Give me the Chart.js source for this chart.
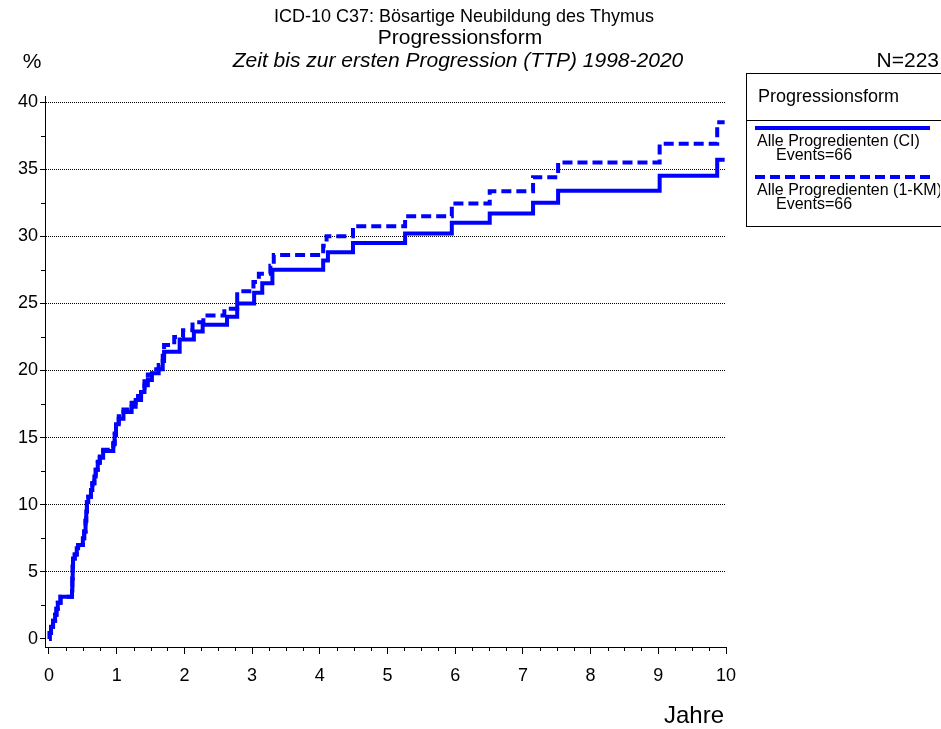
<!DOCTYPE html>
<html lang="de">
<head>
<meta charset="utf-8">
<title>ICD-10 C37 Progressionsform</title>
<script src="https://cdn.jsdelivr.net/npm/chart.js@4.4.1/dist/chart.umd.min.js"></script>
<style>
  html, body { margin: 0; padding: 0; background: #fff; }
  #chartContainer { display: block; }
</style>
</head>
<body>
<canvas id="chartContainer" width="941" height="729"></canvas>
<script>
// Zeit bis zur ersten Progression, kumulative Inzidenz (CI)
var ciYears = [0.00, 0.01, 0.03, 0.06, 0.09, 0.11, 0.13, 0.17, 0.34, 0.345, 0.35, 0.355, 0.38, 0.41, 0.43,
  0.50, 0.52, 0.54, 0.55, 0.56, 0.58, 0.62, 0.64, 0.67, 0.69, 0.72, 0.75, 0.80, 0.95, 0.97, 0.99,
  1.03, 1.10, 1.22, 1.28, 1.36, 1.41, 1.46, 1.52, 1.62, 1.68, 1.70, 1.93, 2.14, 2.27, 2.63, 2.78,
  3.03, 3.15, 3.30, 4.05, 4.12, 4.49, 5.26, 5.95, 6.51, 7.15, 7.52, 9.02, 9.87, 9.98];
var ciValues = [0.0, 0.45, 0.9, 1.35, 1.8, 2.25, 2.7, 3.15, 3.6, 4.5, 5.4, 6.0, 6.3, 6.75, 7.0,
  7.5, 8.0, 8.8, 9.5, 10.2, 10.6, 11.1, 11.6, 12.1, 12.6, 13.1, 13.5, 14.0, 14.5, 15.2, 16.0,
  16.4, 16.9, 17.3, 17.8, 18.4, 18.9, 19.3, 19.8, 20.1, 20.7, 21.4, 22.3, 22.9, 23.4, 24.0, 25.0,
  25.8, 26.5, 27.5, 28.2, 28.8, 29.5, 30.2, 31.0, 31.7, 32.5, 33.4, 34.5, 35.7, 35.7];

// 1 - Kaplan-Meier
var kmYears = [0.00, 0.01, 0.03, 0.06, 0.09, 0.11, 0.13, 0.17, 0.34, 0.345, 0.35, 0.355, 0.38, 0.41, 0.43,
  0.50, 0.52, 0.54, 0.55, 0.56, 0.58, 0.62, 0.64, 0.67, 0.69, 0.72, 0.75, 0.80, 0.95, 0.97, 0.99,
  1.03, 1.10, 1.22, 1.28, 1.36, 1.41, 1.46, 1.52, 1.62, 1.68, 1.70, 1.85, 1.98, 2.12, 2.28, 2.59,
  2.78, 3.02, 3.10, 3.27, 3.32, 4.05, 4.10, 4.49, 5.26, 5.95, 6.51, 7.15, 7.52, 9.02, 9.87, 9.98];
var kmValues = [0.0, 0.45, 0.9, 1.35, 1.8, 2.25, 2.7, 3.15, 3.6, 4.5, 5.4, 6.0, 6.3, 6.75, 7.0,
  7.5, 8.0, 8.8, 9.5, 10.2, 10.6, 11.1, 11.6, 12.1, 12.6, 13.2, 13.6, 14.1, 14.6, 15.3, 16.1,
  16.6, 17.1, 17.6, 18.1, 18.7, 19.2, 19.7, 20.1, 20.4, 21.1, 21.9, 22.5, 23.0, 23.6, 24.1, 24.6,
  25.9, 26.6, 27.2, 27.8, 28.6, 29.3, 30.0, 30.75, 31.5, 32.45, 33.35, 34.4, 35.5, 36.9, 38.5, 38.5];

var xTicks = [0, 1, 2, 3, 4, 5, 6, 7, 8, 9, 10];
var yTicks = [0, 5, 10, 15, 20, 25, 30, 35, 40];
var seriesLabels = ['Alle Progredienten (CI)', 'Alle Progredienten (1-KM)'];
var seriesEvents = [66, 66];
var titleLines = ['ICD-10 C37: Bösartige Neubildung des Thymus', 'Progressionsform',
  'Zeit bis zur ersten Progression (TTP) 1998-2020'];
var legendTitle = 'Progressionsform';
var countLabel = 'N=223';

var FONT = "'Liberation Sans', Arial, sans-serif";
var BLUE = '#0000ff';

function toPoints(xs, ys) {
  var pts = [];
  for (var i = 0; i < xs.length; i++) pts.push({x: xs[i], y: ys[i]});
  return pts;
}

// kleine Zwischenstriche an den Achsen
var minorTicks = {
  id: 'minorTicks',
  afterDraw: function(chart) {
    var ctx = chart.ctx, xs = chart.scales.x, ys = chart.scales.y;
    ctx.save();
    ctx.strokeStyle = '#000';
    ctx.lineWidth = 1;
    ctx.beginPath();
    for (var v = 0.25; v < 10; v += 0.25) {
      if (Math.abs(v - Math.round(v)) < 1e-6) continue;
      var px = Math.round(xs.getPixelForValue(v)) + 0.5;
      ctx.moveTo(px, xs.top);
      ctx.lineTo(px, xs.top + 4);
    }
    for (var w = 2.5; w < 40; w += 5) {
      var py = Math.round(ys.getPixelForValue(w)) + 0.5;
      ctx.moveTo(ys.right, py);
      ctx.lineTo(ys.right - 4, py);
    }
    ctx.stroke();
    ctx.restore();
  }
};

var texts = {
  id: 'texts',
  afterDraw: function(chart) {
    var ctx = chart.ctx;
    ctx.save();
    ctx.fillStyle = '#000';
    ctx.textBaseline = 'middle';
    ctx.textAlign = 'center';
    ctx.font = '18px ' + FONT;
    ctx.fillText(titleLines[0], 464, 17);
    ctx.font = '21px ' + FONT;
    ctx.fillText(titleLines[1], 460, 38);
    ctx.font = 'italic 21px ' + FONT;
    ctx.fillText(titleLines[2], 458, 61);
    ctx.font = '21px ' + FONT;
    ctx.fillText('%', 32, 62);
    ctx.textAlign = 'right';
    ctx.fillText(countLabel, 939, 61);
    ctx.font = '24px ' + FONT;
    ctx.fillText('Jahre', 724, 716);

    // Legende
    ctx.strokeStyle = '#000';
    ctx.lineWidth = 1;
    ctx.strokeRect(746.5, 73.5, 200, 153);
    ctx.beginPath();
    ctx.moveTo(746, 120.5);
    ctx.lineTo(941, 120.5);
    ctx.stroke();
    ctx.textAlign = 'left';
    ctx.font = '18px ' + FONT;
    ctx.fillText(legendTitle, 758, 97);

    ctx.beginPath();
    ctx.rect(747, 121, 193, 105);
    ctx.clip();
    var rowY = [128, 177];
    for (var i = 0; i < seriesLabels.length; i++) {
      ctx.strokeStyle = BLUE;
      ctx.lineWidth = 4;
      ctx.setLineDash(i === 0 ? [] : [10, 5]);
      ctx.beginPath();
      ctx.moveTo(755, rowY[i]);
      ctx.lineTo(930, rowY[i]);
      ctx.stroke();
      ctx.setLineDash([]);
      ctx.font = '16px ' + FONT;
      ctx.fillText(seriesLabels[i], 757, rowY[i] + 14);
      ctx.fillText('Events=' + seriesEvents[i], 776, rowY[i] + 28);
    }
    ctx.restore();
  }
};

Chart.defaults.font.family = FONT;
Chart.defaults.color = '#000';

const ctx = document.getElementById('chartContainer');

var chart = new Chart(ctx, {
  type: 'line',
  data: {
    datasets: [{
      label: seriesLabels[0],
      data: toPoints(ciYears, ciValues),
      borderColor: BLUE,
      borderWidth: 4,
      stepped: 'before',
      pointRadius: 0,
      borderJoinStyle: 'miter',
      fill: false
    }, {
      label: seriesLabels[1],
      data: toPoints(kmYears, kmValues),
      borderColor: BLUE,
      borderWidth: 4,
      borderDash: [10, 5],
      stepped: 'before',
      pointRadius: 0,
      borderJoinStyle: 'miter',
      fill: false
    }]
  },
  options: {
    responsive: false,
    animation: false,
    devicePixelRatio: 1,
    layout: { padding: { top: 96, right: 215, left: 0, bottom: 0 } },
    plugins: {
      legend: { display: false },
      title: { display: false },
      tooltip: { enabled: false }
    },
    scales: {
      x: {
        type: 'linear',
        min: -0.059,
        max: 10,
        afterFit: function(scale) { scale.height = 82; },
        afterBuildTicks: function(scale) {
          scale.ticks = xTicks.map(function(v) { return {value: v}; });
        },
        grid: { drawOnChartArea: false, tickLength: 7, color: '#000' },
        border: { color: '#000', width: 1 },
        ticks: { font: { size: 18 }, padding: 11, maxRotation: 0 }
      },
      y: {
        type: 'linear',
        min: -0.6,
        max: 40.45,
        afterFit: function(scale) { scale.width = 45; },
        afterBuildTicks: function(scale) {
          scale.ticks = yTicks.map(function(v) { return {value: v}; });
        },
        grid: {
          tickLength: 5,
          tickColor: '#000',
          color: function(c) { return c.tick && c.tick.value === 0 ? 'rgba(0,0,0,0)' : '#000'; }
        },
        border: { color: '#000', width: 1, dash: [1, 1] },
        ticks: { font: { size: 18 }, padding: 2 }
      }
    }
  },
  plugins: [minorTicks, texts]
});
</script>
</body>
</html>
